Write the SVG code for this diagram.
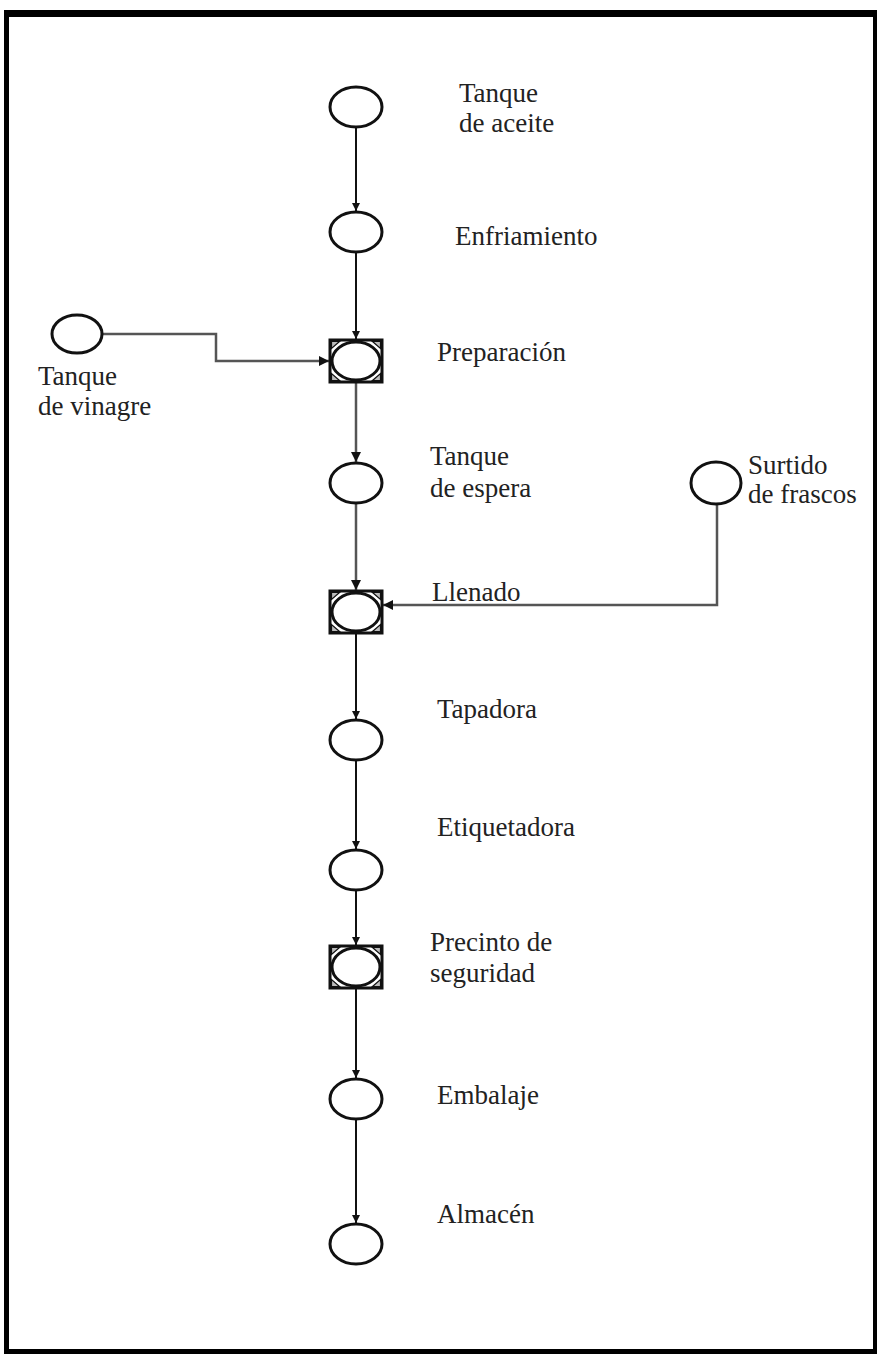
<svg xmlns="http://www.w3.org/2000/svg" width="877" height="1354" viewBox="0 0 877 1354">
  <style>
    .op { fill: #fff; stroke: #111; stroke-width: 3; }
    .box { fill: #fff; stroke: #111; stroke-width: 3; }
    .corner { fill: #bbb; stroke: #111; stroke-width: 1.2; }
    .flow { fill: none; stroke: #111; stroke-width: 2; }
    .flow2 { fill: none; stroke: #555; stroke-width: 2.5; }
  </style>
  <defs>
    <marker id="arrow" viewBox="0 0 10 10" refX="10" refY="5" markerWidth="4" markerHeight="4" orient="auto" markerUnits="strokeWidth">
      <path d="M0,0 L10,5 L0,10 z" fill="#111"/>
    </marker>
    <!-- combined operation/inspection symbol: square with inscribed ellipse -->
    <g id="combo">
      <rect class="box" x="-26" y="-21" width="52" height="42"/>
      <path class="corner" d="M-24.5,-19.5 h8 l-8,7 z M24.5,-19.5 h-8 l8,7 z M-24.5,19.5 h8 l-8,-7 z M24.5,19.5 h-8 l8,-7 z"/>
      <ellipse class="op" cx="0" cy="0" rx="24" ry="19"/>
    </g>
  </defs>

  <rect width="877" height="1354" fill="#fff"/>

  <!-- outer frame -->
  <g id="frame" fill="#000">
    <rect x="4" y="10" width="873" height="7"/>
    <rect x="4" y="10" width="5" height="1344"/>
    <rect x="873" y="10" width="4" height="1344"/>
    <rect x="4" y="1349" width="873" height="5"/>
  </g>

  <!-- connectors -->
  <g id="connectors">
    <line class="flow" x1="356" y1="128" x2="356" y2="211" marker-end="url(#arrow)"/>
    <line class="flow" x1="356" y1="253" x2="356" y2="339" marker-end="url(#arrow)"/>
    <polyline class="flow2" points="103,334 216,334 216,361 329,361" marker-end="url(#arrow)"/>
    <line class="flow2" x1="356" y1="382" x2="356" y2="462" marker-end="url(#arrow)"/>
    <line class="flow2" x1="356" y1="504" x2="356" y2="590" marker-end="url(#arrow)"/>
    <polyline class="flow2" points="717,504 717,605 383,605" marker-end="url(#arrow)"/>
    <line class="flow" x1="356" y1="633" x2="356" y2="719" marker-end="url(#arrow)"/>
    <line class="flow" x1="356" y1="761" x2="356" y2="849" marker-end="url(#arrow)"/>
    <line class="flow" x1="356" y1="891" x2="356" y2="945" marker-end="url(#arrow)"/>
    <line class="flow" x1="356" y1="988" x2="356" y2="1078" marker-end="url(#arrow)"/>
    <line class="flow" x1="356" y1="1120" x2="356" y2="1223" marker-end="url(#arrow)"/>
  </g>

  <!-- nodes -->
  <g id="labels-and-nodes" font-family="Liberation Serif, Times New Roman, Times, serif" font-size="27" fill="#222">
  <g id="tanque-aceite">
    <ellipse class="op" cx="356" cy="107" rx="26" ry="20"/>
    <text x="459" y="102">Tanque</text>
    <text x="459" y="132">de aceite</text>
  </g>
  <g id="enfriamiento">
    <ellipse class="op" cx="356" cy="232" rx="26" ry="20"/>
    <text x="455" y="245">Enfriamiento</text>
  </g>
  <g id="tanque-vinagre">
    <ellipse class="op" cx="77" cy="334" rx="25" ry="19"/>
    <text x="38" y="385">Tanque</text>
    <text x="38" y="415">de vinagre</text>
  </g>
  <g id="preparacion">
    <use href="#combo" x="356" y="361"/>
    <text x="437" y="361">Preparación</text>
  </g>
  <g id="tanque-espera">
    <ellipse class="op" cx="356" cy="483" rx="26" ry="20"/>
    <text x="430" y="465">Tanque</text>
    <text x="430" y="497">de espera</text>
  </g>
  <g id="surtido-frascos">
    <ellipse class="op" cx="716" cy="483" rx="25" ry="21"/>
    <text x="748" y="474">Surtido</text>
    <text x="748" y="503">de frascos</text>
  </g>
  <g id="llenado">
    <use href="#combo" x="356" y="612"/>
    <text x="432" y="601">Llenado</text>
  </g>
  <g id="tapadora">
    <ellipse class="op" cx="356" cy="740" rx="26" ry="20"/>
    <text x="437" y="718">Tapadora</text>
  </g>
  <g id="etiquetadora">
    <ellipse class="op" cx="356" cy="870" rx="26" ry="20"/>
    <text x="437" y="836">Etiquetadora</text>
  </g>
  <g id="precinto">
    <use href="#combo" x="356" y="967"/>
    <text x="430" y="951">Precinto de</text>
    <text x="430" y="982">seguridad</text>
  </g>
  <g id="embalaje">
    <ellipse class="op" cx="356" cy="1099" rx="26" ry="20"/>
    <text x="437" y="1104">Embalaje</text>
  </g>
  <g id="almacen">
    <ellipse class="op" cx="356" cy="1244" rx="26" ry="20"/>
    <text x="437" y="1223">Almacén</text>
  </g>
  </g>
</svg>
